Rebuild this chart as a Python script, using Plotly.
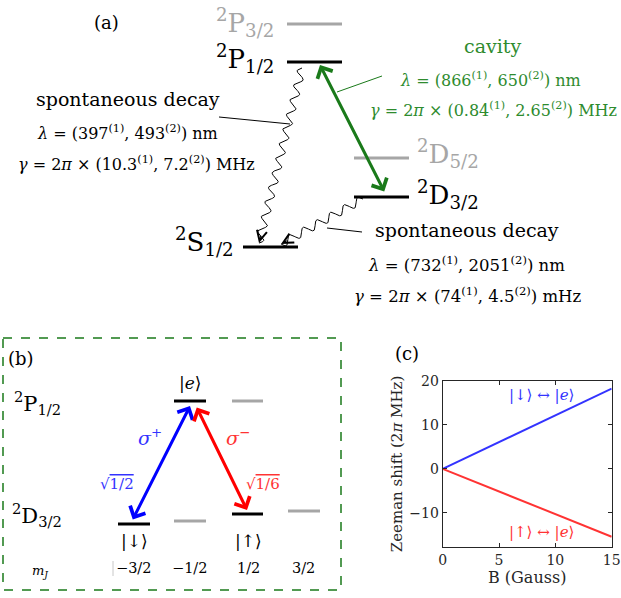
import numpy as np
import plotly.graph_objects as go

W, H = 621, 598
FONT = "'DejaVu Serif', 'Liberation Serif', serif"

# ---------------- data ----------------
B_gauss = [0, 15]
shift_down_e = [0, 18.2]     # |down> <-> |e>
shift_up_e = [0, -15.4]      # |up> <-> |e>
x_ticks = [0, 5, 10, 15]
y_ticks = [-10, 0, 10, 20]

levels_a = ["<sup>2</sup>P<sub>3/2</sub>", "<sup>2</sup>P<sub>1/2</sub>", "<sup>2</sup>S<sub>1/2</sub>",
            "<sup>2</sup>D<sub>5/2</sub>", "<sup>2</sup>D<sub>3/2</sub>"]
decay1_text = ["spontaneous decay",
               "<i>λ</i> = (397<sup>(1)</sup>, 493<sup>(2)</sup>) nm",
               "<i>γ</i> = 2<i>π</i> × (10.3<sup>(1)</sup>, 7.2<sup>(2)</sup>) MHz"]
cavity_text = ["cavity",
               "<i>λ</i> = (866<sup>(1)</sup>, 650<sup>(2)</sup>) nm",
               "<i>γ</i> = 2<i>π</i> × (0.84<sup>(1)</sup>, 2.65<sup>(2)</sup>) MHz"]
decay2_text = ["spontaneous decay",
               "<i>λ</i> = (732<sup>(1)</sup>, 2051<sup>(2)</sup>) nm",
               "<i>γ</i> = 2<i>π</i> × (74<sup>(1)</sup>, 4.5<sup>(2)</sup>) mHz"]
mj_labels = ["−3/2", "−1/2", "1/2", "3/2"]

BLACK = "#000000"
GRAY = "#a6a6a6"
GREEN = "#1a7a1a"
GREEN_T = "#2e8b2e"
BLUE = "#0000ff"
RED = "#ff0000"
BLUE_L = "#3333ff"
RED_L = "#ff3333"
AX = "#262626"

fig = go.Figure()
shapes = []
ann = []


def hline(x0, x1, y, color, width=3):
    shapes.append(dict(type="line", xref="x", yref="y", x0=x0, x1=x1, y0=y, y1=y,
                       line=dict(color=color, width=width)))


def seg(x0, y0, x1, y1, color, width=1):
    shapes.append(dict(type="line", xref="x", yref="y", x0=x0, x1=x1, y0=y0, y1=y1,
                       line=dict(color=color, width=width)))


def text(x, y, s, size, color=BLACK, xanchor="center", yanchor="middle", **kw):
    ann.append(dict(x=x, y=y, xref="x", yref="y", text=s, showarrow=False,
                    font=dict(family=FONT, size=size, color=color),
                    xanchor=xanchor, yanchor=yanchor, **kw))


def darrow(x0, y0, x1, y1, color, width=3, size=1.1):
    ann.append(dict(x=x1, y=y1, ax=x0, ay=y0, xref="x", yref="y", axref="x", ayref="y",
                    text="", showarrow=True, arrowhead=4, startarrowhead=4,
                    arrowside="end+start", arrowsize=size, startarrowsize=size,
                    arrowwidth=width, arrowcolor=color, standoff=0, startstandoff=0))


def wavy(x0, y0, x1, y1, n, amp):
    t = np.linspace(0, 1, 400)
    dx, dy = x1 - x0, y1 - y0
    L = np.hypot(dx, dy)
    nx, ny = -dy / L, dx / L
    w = amp * np.sin(2 * np.pi * n * t)
    xs = x0 + dx * t + nx * w
    ys = y0 + dy * t + ny * w
    fig.add_trace(go.Scatter(x=xs, y=ys, mode="lines", line=dict(color=BLACK, width=1),
                             hoverinfo="skip", showlegend=False, xaxis="x", yaxis="y"))
    ux, uy = dx / L, dy / L
    ann.append(dict(x=x1, y=y1, ax=x1 - ux * 9, ay=y1 - uy * 9, xref="x", yref="y",
                    axref="x", ayref="y", text="", showarrow=True, arrowhead=5,
                    arrowsize=2, arrowwidth=1, arrowcolor=BLACK, standoff=0))


# ---------------- panel (a) ----------------
text(106, 22, "(a)", 18)
hline(287, 342, 24, GRAY)
text(276, 22, levels_a[0], 26, GRAY, xanchor="right")
hline(287, 342, 62, BLACK)
text(276, 58, levels_a[1], 26, BLACK, xanchor="right")
hline(243, 298, 247, BLACK)
text(236, 241, levels_a[2], 26, BLACK, xanchor="right")
hline(354, 409, 158, GRAY)
text(415, 153, levels_a[3], 26, GRAY, xanchor="left")
hline(354, 409, 197, BLACK)
text(415, 194, levels_a[4], 26, BLACK, xanchor="left")

darrow(385, 193, 320, 65, GREEN, width=3, size=1.1)
seg(337, 92, 382, 76, GREEN, 1)
text(492, 46, cavity_text[0], 19, GREEN_T)
text(490, 79, cavity_text[1], 16, GREEN_T)
text(493, 109, cavity_text[2], 16, GREEN_T)

wavy(302, 68, 259, 243, 12, 4)
seg(219, 117, 290, 124, BLACK, 1)
text(128, 99, decay1_text[0], 19)
text(127, 132, decay1_text[1], 16)
text(136, 163, decay1_text[2], 16)

wavy(363, 199, 281, 244, 6, 4)
seg(327, 228, 362, 232, BLACK, 1)
text(467, 230, decay2_text[0], 19)
text(466, 264, decay2_text[1], 16.5)
text(467, 295, decay2_text[2], 16.5)

# ---------------- panel (b) ----------------
shapes.append(dict(type="rect", xref="x", yref="y", x0=3, x1=341, y0=338, y1=590,
                   line=dict(color=GREEN, width=1.5, dash="dash")))
text(21, 358, "(b)", 18)
text(37, 403, "<sup>2</sup>P<sub>1/2</sub>", 21)
text(37, 515, "<sup>2</sup>D<sub>3/2</sub>", 21)

hline(174, 206, 401, BLACK)
text(190, 383, "|<i>e</i>⟩", 17)
hline(232, 263, 401, GRAY)
hline(118, 150, 524, BLACK)
text(134, 541, "|↓⟩", 17)
hline(174, 206, 521, GRAY)
hline(232, 263, 514, BLACK)
text(248, 541, "|↑⟩", 17)
hline(288, 320, 511, GRAY)

text(40, 571, "<i>m<sub>J</sub></i>", 13)
seg(113, 561, 113, 576, "#c8c8c8", 1)
for xm, lab in zip([134, 190, 248, 303], mj_labels):
    text(xm, 568, lab, 14.5)

darrow(132, 521, 190, 406, BLUE, width=3, size=1.1)
darrow(196, 406, 247, 510, RED, width=3, size=1.1)
text(150, 437, "<i>σ</i><sup>+</sup>", 19, BLUE_L)
text(238, 437, "<i>σ</i><sup>−</sup>", 19, RED_L)
text(117, 484, "√<span style='text-decoration:overline'>1/2</span>", 15, BLUE_L)
text(263, 484, "√<span style='text-decoration:overline'>1/6</span>", 15, RED_L)

# ---------------- panel (c) ----------------
text(407, 353, "(c)", 18)
fig.add_trace(go.Scatter(x=B_gauss, y=shift_down_e, mode="lines", line=dict(color=BLUE_L, width=2),
                         xaxis="x2", yaxis="y2", showlegend=False))
fig.add_trace(go.Scatter(x=B_gauss, y=shift_up_e, mode="lines", line=dict(color=RED_L, width=2),
                         xaxis="x2", yaxis="y2", showlegend=False))
ann.append(dict(x=8.8, y=16.8, xref="x2", yref="y2", text="|↓⟩ ↔ |<i>e</i>⟩", showarrow=False,
                font=dict(family=FONT, size=15, color=BLUE_L)))
ann.append(dict(x=8.8, y=-14.3, xref="x2", yref="y2", text="|↑⟩ ↔ |<i>e</i>⟩", showarrow=False,
                font=dict(family=FONT, size=15, color=RED_L)))

x0p, x1p = 442.7, 611.7
y0p, y1p = 380.7, 547.3
fig.update_layout(
    width=W, height=H, margin=dict(l=0, r=0, t=0, b=0, autoexpand=False),
    paper_bgcolor="white", plot_bgcolor="rgba(0,0,0,0)",
    showlegend=False,
    xaxis=dict(domain=[0, 1], range=[0, W], visible=False, fixedrange=True, automargin=False),
    yaxis=dict(domain=[0, 1], range=[H, 0], visible=False, fixedrange=True, automargin=False),
    xaxis2=dict(domain=[x0p / W, x1p / W], range=[0, 15], anchor="y2", automargin=False,
                tickvals=x_ticks, ticks="inside", ticklen=4, tickcolor=AX,
                showline=True, linecolor=AX, linewidth=1, mirror="ticks",
                showgrid=False, zeroline=False, fixedrange=True,
                tickfont=dict(family=FONT, size=14, color=AX),
                title=dict(text="B (Gauss)", font=dict(family=FONT, size=16, color=AX), standoff=3)),
    yaxis2=dict(domain=[1 - y1p / H, 1 - y0p / H], range=[-17.8, 20], anchor="x2", automargin=False,
                tickvals=y_ticks, ticks="inside", ticklen=4, tickcolor=AX,
                showline=True, linecolor=AX, linewidth=1, mirror="ticks",
                showgrid=False, zeroline=False, fixedrange=True,
                tickfont=dict(family=FONT, size=14, color=AX),
                title=dict(text="Zeeman shift (2<i>π</i> MHz)", font=dict(family=FONT, size=15, color=AX), standoff=3)),
    shapes=shapes, annotations=ann,
)
fig.write_html("out.html", config={"displayModeBar": False},
               post_script="document.body.style.margin='0px';")
